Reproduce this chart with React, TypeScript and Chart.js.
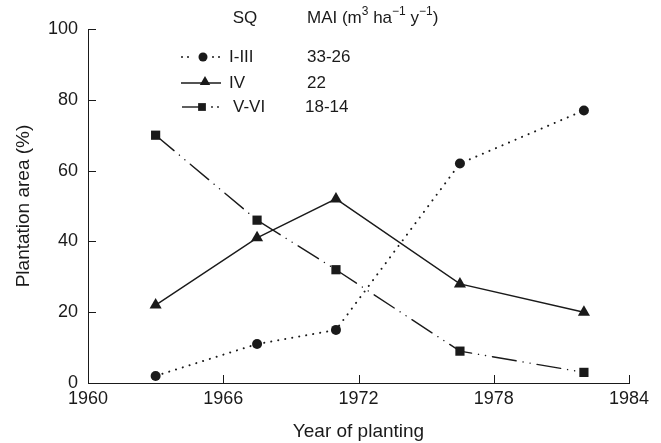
import React, { useEffect, useRef } from "react";
import { Chart, registerables } from "chart.js";

Chart.register(...registerables);

const years = [1963, 1967.5, 1971, 1976.5, 1982];
const sqI_III = [2, 11, 15, 62, 77];
const sqIV = [22, 41, 52, 28, 20];
const sqV_VI = [70, 46, 32, 9, 3];
const xTicks = [1960, 1966, 1972, 1978, 1984];
const yTicks = [0, 20, 40, 60, 80, 100];
const seriesNames = ["I-III", "IV", "V-VI"];
const maiValues = ["33-26", "22", "18-14"];

const FONT = "'Liberation Sans', Arial, Helvetica, sans-serif";
const INK = "#1a1a1a";

function drawMarker(ctx: CanvasRenderingContext2D, style: string, x: number, y: number, r: number) {
  ctx.beginPath();
  if (style === "circle") {
    ctx.arc(x, y, r, 0, Math.PI * 2);
  } else if (style === "triangle") {
    ctx.moveTo(x, y - r);
    ctx.lineTo(x + r * 0.866, y + r * 0.5);
    ctx.lineTo(x - r * 0.866, y + r * 0.5);
    ctx.closePath();
  } else {
    const s = r * 0.707;
    ctx.rect(x - s, y - s, 2 * s, 2 * s);
  }
  ctx.fill();
}

const extrasPlugin = {
  id: "extras",
  afterDraw(chart: any) {
    const ctx: CanvasRenderingContext2D = chart.ctx;
    const xs = chart.scales.x;
    const ys = chart.scales.y;
    const area = chart.chartArea;
    ctx.save();
    ctx.strokeStyle = INK;
    ctx.lineWidth = 1;
    // inward tick marks
    xTicks.forEach((t) => {
      const px = Math.round(xs.getPixelForValue(t)) + 0.5;
      ctx.beginPath();
      ctx.moveTo(px, area.bottom);
      ctx.lineTo(px, area.bottom - 8);
      ctx.stroke();
    });
    yTicks.forEach((t) => {
      const py = Math.round(ys.getPixelForValue(t)) + 0.5;
      ctx.beginPath();
      ctx.moveTo(area.left, py);
      ctx.lineTo(area.left + 8, py);
      ctx.stroke();
    });

    // legend
    ctx.fillStyle = INK;
    ctx.font = `17px ${FONT}`;
    ctx.textBaseline = "middle";
    ctx.textAlign = "center";
    ctx.fillText("SQ", 245, 18);
    ctx.textAlign = "left";
    let cx = 307;
    const seg = (txt: string, sup: boolean) => {
      if (sup) {
        ctx.font = `12px ${FONT}`;
        ctx.fillText(txt, cx, 12);
      } else {
        ctx.font = `17px ${FONT}`;
        ctx.fillText(txt, cx, 18);
      }
      cx += ctx.measureText(txt).width;
    };
    seg("MAI (m", false);
    seg("3", true);
    seg(" ha", false);
    seg("\u22121", true);
    seg(" y", false);
    seg("\u22121", true);
    seg(")", false);

    ctx.font = `17px ${FONT}`;
    const rows = [57, 83, 107];
    // row 1: dotted + circle
    ctx.fillStyle = INK;
    [182, 188, 213, 219].forEach((dx) => {
      ctx.beginPath();
      ctx.arc(dx, rows[0], 1, 0, Math.PI * 2);
      ctx.fill();
    });
    drawMarker(ctx, "circle", 203, rows[0], 4.5);
    // row 2: solid + triangle
    ctx.lineWidth = 1.4;
    ctx.beginPath();
    ctx.moveTo(181, rows[1]);
    ctx.lineTo(221, rows[1]);
    ctx.stroke();
    drawMarker(ctx, "triangle", 205, rows[1] - 1, 6);
    // row 3: solid + square + dots
    ctx.beginPath();
    ctx.moveTo(182, rows[2]);
    ctx.lineTo(200, rows[2]);
    ctx.stroke();
    drawMarker(ctx, "rect", 202, rows[2], 5.5);
    [212, 218].forEach((dx) => {
      ctx.beginPath();
      ctx.arc(dx, rows[2], 0.9, 0, Math.PI * 2);
      ctx.fill();
    });
    const labelX = [229, 229, 233];
    const maiX = [307, 307, 305];
    seriesNames.forEach((n, i) => {
      ctx.fillText(n, labelX[i], rows[i]);
      ctx.fillText(maiValues[i], maiX[i], rows[i]);
    });
    ctx.restore();
  },
};

export default function App() {
  const ref = useRef<HTMLCanvasElement | null>(null);
  useEffect(() => {
    if (!ref.current) return;
    const mk = (vals: number[]) => years.map((x, i) => ({ x, y: vals[i] }));
    const chart = new Chart(ref.current, {
      type: "line",
      data: {
        datasets: [
          {
            label: seriesNames[0],
            data: mk(sqI_III),
            borderColor: INK,
            backgroundColor: INK,
            borderWidth: 2,
            borderDash: [0.1, 7],
            borderCapStyle: "round",
            pointStyle: "circle",
            pointRadius: 5,
            pointBorderWidth: 0,
            tension: 0,
          },
          {
            label: seriesNames[1],
            data: mk(sqIV),
            borderColor: INK,
            backgroundColor: INK,
            borderWidth: 1.4,
            pointStyle: "triangle",
            pointRadius: 7,
            pointBorderWidth: 0,
            tension: 0,
          },
          {
            label: seriesNames[2],
            data: mk(sqV_VI),
            borderColor: INK,
            backgroundColor: INK,
            borderWidth: 1.4,
            borderDash: [24, 7, 0.1, 7, 0.1, 7],
            borderCapStyle: "round",
            pointStyle: "rect",
            pointRadius: 6.5,
            pointBorderWidth: 0,
            tension: 0,
          },
        ],
      },
      options: {
        responsive: false,
        animation: false,
        layout: { padding: { top: 29, right: 32, left: 0, bottom: 0 } },
        plugins: { legend: { display: false }, tooltip: { enabled: false } },
        scales: {
          x: {
            type: "linear",
            min: 1960,
            max: 1984,
            afterBuildTicks: (s: any) => {
              s.ticks = xTicks.map((v) => ({ value: v }));
            },
            ticks: {
              color: INK,
              font: { family: FONT, size: 18 },
              padding: 5,
              maxRotation: 0,
              callback: (v: any) => String(v),
            },
            grid: { display: false, drawTicks: false },
            border: { display: true, color: INK, width: 1 },
            title: {
              display: true,
              text: "Year of planting",
              color: INK,
              font: { family: FONT, size: 19 },
              padding: { top: 0, bottom: 0 },
            },
            afterFit: (s: any) => {
              s.height = 60;
            },
          },
          y: {
            type: "linear",
            min: 0,
            max: 100,
            afterBuildTicks: (s: any) => {
              s.ticks = yTicks.map((v) => ({ value: v }));
            },
            ticks: {
              color: INK,
              font: { family: FONT, size: 18 },
              padding: 10,
            },
            grid: { display: false, drawTicks: false },
            border: { display: true, color: INK, width: 1 },
            title: {
              display: true,
              text: "Plantation area (%)",
              color: INK,
              font: { family: FONT, size: 19 },
              padding: { top: 12, bottom: 0 },
            },
            afterFit: (s: any) => {
              s.width = 88;
            },
          },
        },
      },
      plugins: [extrasPlugin],
    });
    return () => chart.destroy();
  }, []);
  return (
    <div style={{ position: "fixed", left: 0, top: 0, width: 661, height: 443, background: "#fff" }}>
      <canvas ref={ref} width={661} height={443} />
    </div>
  );
}
